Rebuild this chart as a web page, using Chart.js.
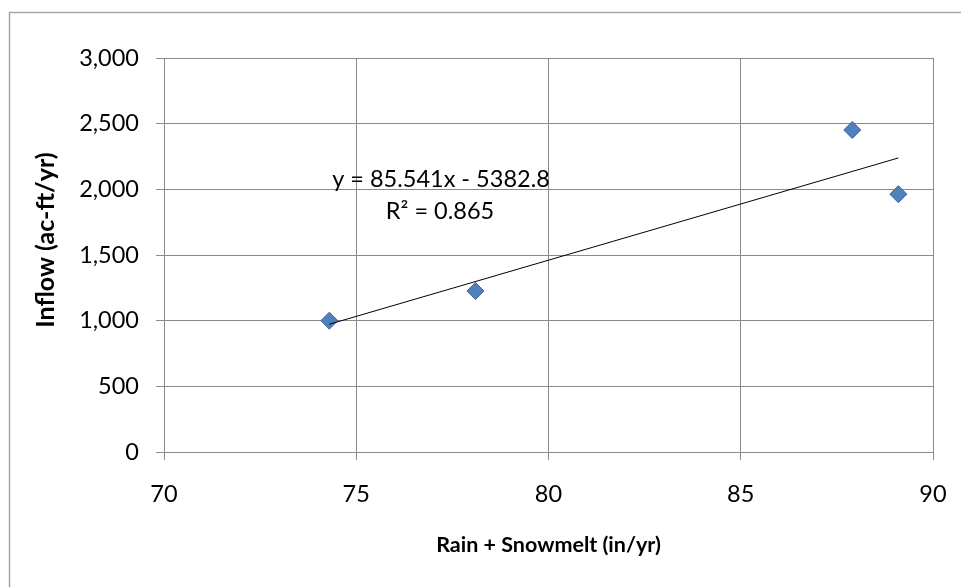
<!DOCTYPE html>
<html><head><meta charset="utf-8">
<script src="https://cdn.jsdelivr.net/npm/chart.js@4"></script>
<style>html,body{margin:0;padding:0;background:#fff}#wrap{width:961px;height:587px;position:relative}</style>
</head><body><div id="wrap"><canvas id="c" width="961" height="587"></canvas></div>
<script>
// ---- data ----
const rainSnowmelt = [74.3, 78.1, 87.9, 89.1];      // x: in/yr
const inflow = [1000, 1226, 2452, 1963];            // y: ac-ft/yr
const trendSlope = 85.541;
const trendIntercept = -5382.8;
const rSquared = 0.865;
const xTicks = [70, 75, 80, 85, 90];
const yTicks = [0, 500, 1000, 1500, 2000, 2500, 3000];
const xTitle = 'Rain + Snowmelt (in/yr)';
const yTitle = 'Inflow (ac-ft/yr)';

const points = rainSnowmelt.map((x, i) => ({x: x, y: inflow[i]}));
const xMin = Math.min(...rainSnowmelt), xMax = Math.max(...rainSnowmelt);
const trend = [xMin, xMax].map(x => ({x: x, y: trendSlope * x + trendIntercept}));

const FONT = 'Lato, "Open Sans", sans-serif';
const GRID = '#8a8a8a';

// pick a font size that gives the text a target width
const mctx = document.createElement('canvas').getContext('2d');
function fitSize(text, weight, target) {
  mctx.font = weight + ' 100px ' + FONT;
  return Math.round(100 * target / mctx.measureText(text).width * 2) / 2;
}
const tickSize = fitSize('3,000', 'normal', 60);
const xTitleSize = fitSize(xTitle, 'bold', 222);
const yTitleSize = fitSize(yTitle, 'bold', 175);
const eqText = 'y = ' + trendSlope + 'x' + (trendIntercept < 0 ? ' - ' : ' + ') + Math.abs(trendIntercept);
const r2Text = 'R\u00B2 = ' + rSquared;
const eqSize = fitSize(eqText, 'normal', 217);

const framePlugin = {
  id: 'frame',
  beforeDraw(chart) {
    const ctx = chart.ctx;
    ctx.save();
    ctx.fillStyle = '#fff';
    ctx.fillRect(0, 0, chart.width, chart.height);
    ctx.strokeStyle = '#a6a6a6';
    ctx.lineWidth = 1.5;
    ctx.strokeRect(9.5, 12.5, 1200, 1200);
    ctx.restore();
  },
  afterDatasetsDraw(chart) {
    const ctx = chart.ctx;
    ctx.save();
    ctx.fillStyle = '#000';
    ctx.font = eqSize + 'px ' + FONT;
    ctx.textAlign = 'center';
    ctx.textBaseline = 'middle';
    ctx.fillText(eqText, 441, 179);
    ctx.fillText(r2Text, 440, 211);
    // y-axis title (Excel places it slightly above the plot's middle)
    ctx.translate(46, 240);
    ctx.rotate(-Math.PI / 2);
    ctx.font = 'bold ' + yTitleSize + 'px ' + FONT;
    ctx.fillText(yTitle, 0, 0);
    ctx.restore();
  }
};

new Chart(document.getElementById('c'), {
  type: 'scatter',
  data: {
    datasets: [
      {label: 'Trend', type: 'line', data: trend, borderColor: '#000', borderWidth: 1,
       pointRadius: 0, fill: false, order: 0},
      {label: 'Inflow', data: points, pointStyle: 'rectRot', pointRadius: 8.5, pointHoverRadius: 8.5,
       backgroundColor: '#4F81BD', borderColor: '#4A5C9E', borderWidth: 1, order: 1}
    ]
  },
  options: {
    responsive: false,
    animation: false,
    devicePixelRatio: 1,
    layout: {padding: {top: 58, right: 28, bottom: 0, left: 0}},
    plugins: {legend: {display: false}, tooltip: {enabled: false}},
    scales: {
      x: {
        type: 'linear',
        min: xTicks[0], max: xTicks[xTicks.length - 1],
        afterBuildTicks: s => { s.ticks = xTicks.map(v => ({value: v})); },
        afterFit: s => { s.height = 135; s.paddingLeft = 0; s.paddingRight = 0; },
        grid: {color: GRID, lineWidth: 1, tickLength: 8, drawTicks: true},
        border: {color: GRID, width: 1},
        ticks: {color: '#000', font: {family: FONT, size: tickSize}, padding: 20, maxRotation: 0},
        title: {display: true, text: xTitle, color: '#000',
                font: {family: FONT, size: xTitleSize, weight: 'bold'}, padding: {top: 0, bottom: 29}}
      },
      y: {
        type: 'linear',
        min: yTicks[0], max: yTicks[yTicks.length - 1],
        afterBuildTicks: s => { s.ticks = yTicks.map(v => ({value: v})); },
        afterFit: s => { s.width = 164; s.paddingTop = 0; s.paddingBottom = 0; },
        grid: {color: GRID, lineWidth: 1, tickLength: 8, drawTicks: true},
        border: {color: GRID, width: 1},
        ticks: {color: '#000', font: {family: FONT, size: tickSize}, padding: 17,
                callback: v => v.toLocaleString('en-US')},
        title: {display: false, text: yTitle}
      }
    }
  },
  plugins: [framePlugin]
});
</script>
</body></html>
